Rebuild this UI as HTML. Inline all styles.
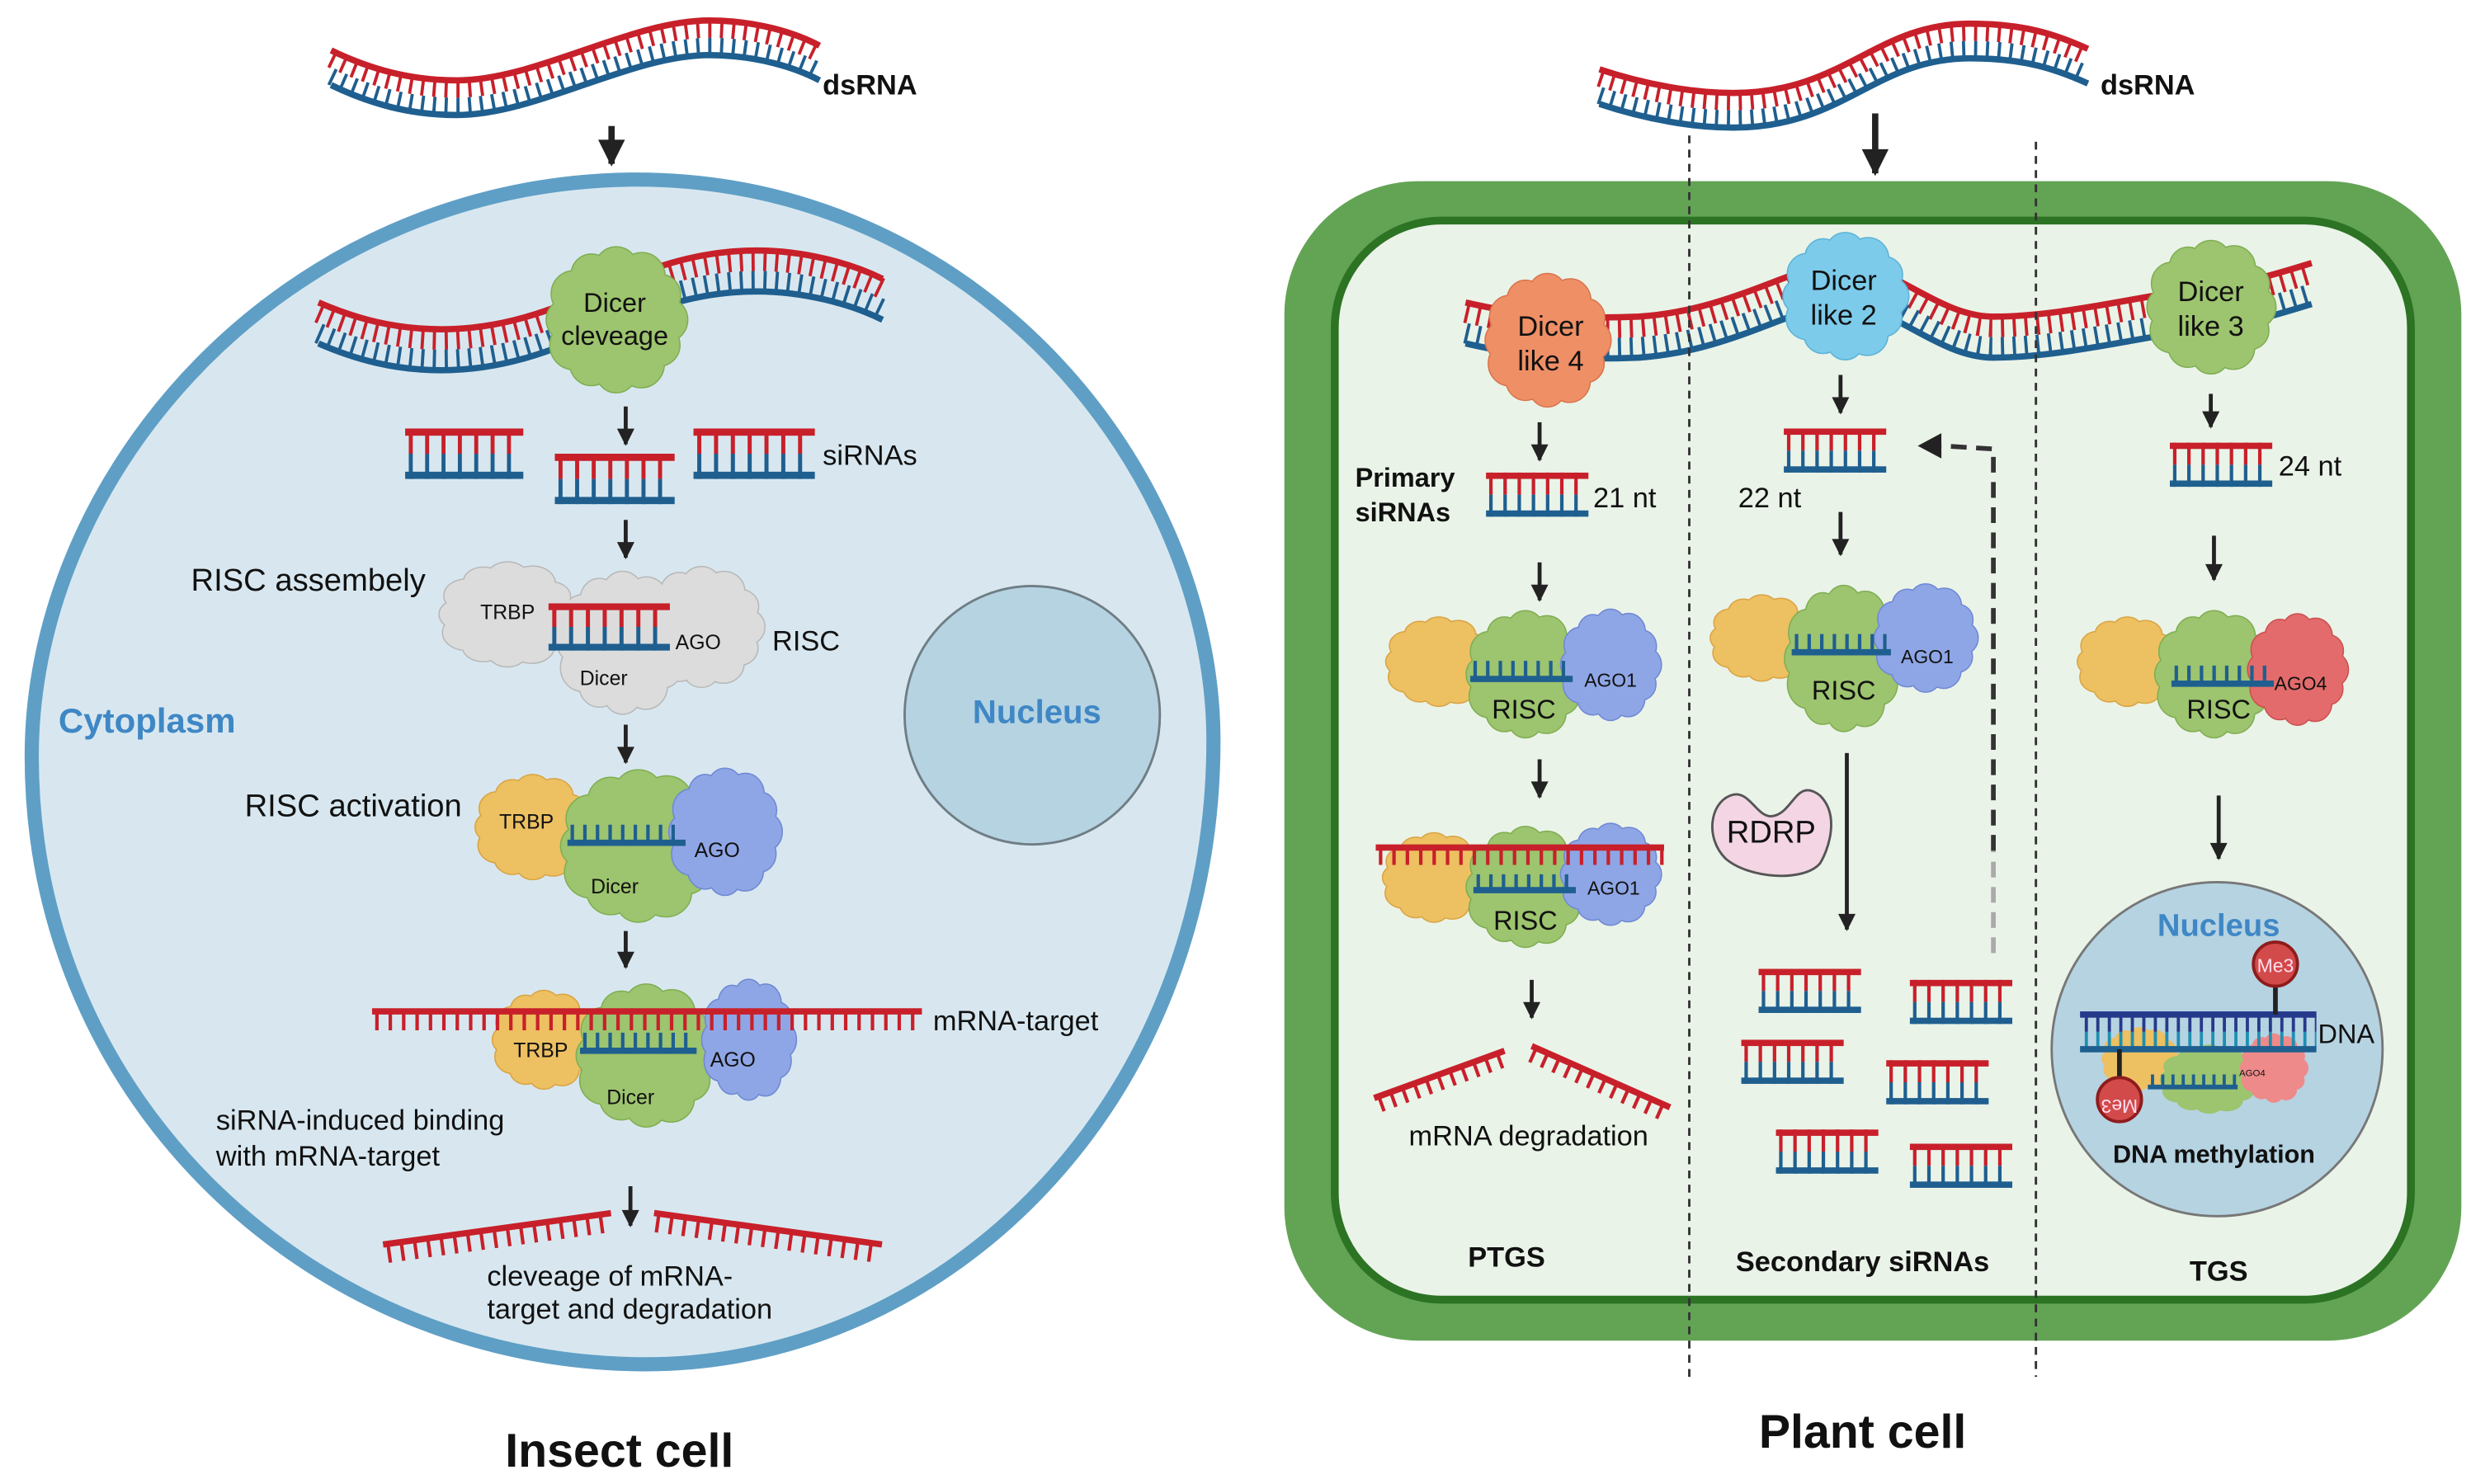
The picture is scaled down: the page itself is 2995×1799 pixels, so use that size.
<!DOCTYPE html>
<html><head><meta charset="utf-8">
<style>
html,body{margin:0;padding:0;background:#fff;}
svg{display:block;}
text{font-family:"Liberation Sans",sans-serif;}
</style></head>
<body>
<svg width="2995" height="1799" viewBox="0 0 1568 942" xmlns="http://www.w3.org/2000/svg" xmlns:xlink="http://www.w3.org/1999/xlink">
<defs>
<marker id="a" viewBox="0 0 10 10" refX="9" refY="5" markerWidth="12" markerHeight="11" markerUnits="userSpaceOnUse" orient="auto"><path d="M0 0 L10 5 L0 10z" fill="#222"/></marker>
<marker id="b" viewBox="0 0 10 10" refX="9" refY="5" markerWidth="18" markerHeight="17" markerUnits="userSpaceOnUse" orient="auto"><path d="M0 0 L10 5 L0 10z" fill="#222"/></marker>
<g id="blob">
<ellipse cx="0" cy="0" rx="0.8" ry="0.8" vector-effect="non-scaling-stroke"/>
<circle cx="0.7" cy="0" r="0.3" vector-effect="non-scaling-stroke"/>
<circle cx="0.61" cy="0.35" r="0.28" vector-effect="non-scaling-stroke"/>
<circle cx="0.35" cy="0.61" r="0.32" vector-effect="non-scaling-stroke"/>
<circle cx="0" cy="0.72" r="0.28" vector-effect="non-scaling-stroke"/>
<circle cx="-0.35" cy="0.6" r="0.3" vector-effect="non-scaling-stroke"/>
<circle cx="-0.6" cy="0.35" r="0.33" vector-effect="non-scaling-stroke"/>
<circle cx="-0.7" cy="0" r="0.28" vector-effect="non-scaling-stroke"/>
<circle cx="-0.6" cy="-0.36" r="0.31" vector-effect="non-scaling-stroke"/>
<circle cx="-0.35" cy="-0.62" r="0.28" vector-effect="non-scaling-stroke"/>
<circle cx="0" cy="-0.7" r="0.3" vector-effect="non-scaling-stroke"/>
<circle cx="0.36" cy="-0.6" r="0.32" vector-effect="non-scaling-stroke"/>
<circle cx="0.62" cy="-0.34" r="0.28" vector-effect="non-scaling-stroke"/>
</g>
<g id="lad">
<line x1="2" y1="7" x2="65" y2="7" stroke="#c8202a" stroke-width="14" stroke-dasharray="2.2 6.8"/>
<line x1="2" y1="21" x2="65" y2="21" stroke="#1f5f8f" stroke-width="14" stroke-dasharray="2.2 6.8"/>
<rect x="0" y="0" width="65" height="4" fill="#c8202a"/>
<rect x="0" y="24" width="65" height="4" fill="#1f5f8f"/>
</g>
</defs>
<rect width="1568" height="942" fill="#fff"/>

<!-- ===== INSECT CELL ===== -->
<path d="M400 114 C620 112 770 300 770 470 C770 700 600 866 410 866 C200 866 20 700 20 480 C20 300 180 117 400 114 Z" fill="#d8e7ef" stroke="#5f9fc6" stroke-width="9"/>
<ellipse cx="655" cy="454" rx="81" ry="82" fill="#b6d3e2" stroke="#6f7d84" stroke-width="1.5"/>

<g fill="none">
<path d="M210 43 C235 55 260 62 290 62 C340 62 400 24 450 24 C480 24 505 32 520 40" transform="translate(0,-5.5)" stroke="#c8202a" stroke-width="11" stroke-dasharray="2 5.5"/>
<path d="M210 43 C235 55 260 62 290 62 C340 62 400 24 450 24 C480 24 505 32 520 40" transform="translate(0,5.5)" stroke="#1f5f8f" stroke-width="11" stroke-dasharray="2 5.5"/>
<path d="M210 43 C235 55 260 62 290 62 C340 62 400 24 450 24 C480 24 505 32 520 40" transform="translate(0,-11)" stroke="#c8202a" stroke-width="4"/>
<path d="M210 43 C235 55 260 62 290 62 C340 62 400 24 450 24 C480 24 505 32 520 40" transform="translate(0,11)" stroke="#1f5f8f" stroke-width="4"/>
</g>
<line x1="388" y1="80" x2="388" y2="104" stroke="#222" stroke-width="4" marker-end="url(#b)"/>

<g fill="none">
<path d="M202 205 C225 215 250 222 280 222 C360 222 400 172 480 172 C510 172 540 180 560 190" transform="translate(0,-6.5)" stroke="#c8202a" stroke-width="13" stroke-dasharray="2 5.5"/>
<path d="M202 205 C225 215 250 222 280 222 C360 222 400 172 480 172 C510 172 540 180 560 190" transform="translate(0,6.5)" stroke="#1f5f8f" stroke-width="13" stroke-dasharray="2 5.5"/>
<path d="M202 205 C225 215 250 222 280 222 C360 222 400 172 480 172 C510 172 540 180 560 190" transform="translate(0,-13)" stroke="#c8202a" stroke-width="4"/>
<path d="M202 205 C225 215 250 222 280 222 C360 222 400 172 480 172 C510 172 540 180 560 190" transform="translate(0,13)" stroke="#1f5f8f" stroke-width="4"/>
</g>
<use xlink:href="#blob" transform="translate(391,203) scale(45,46)" fill="#7fae52" stroke="#7fae52" stroke-width="3"/>
<use xlink:href="#blob" transform="translate(391,203) scale(45,46)" fill="#9dc46e"/>

<line x1="397" y1="258" x2="397" y2="282" stroke="#222" stroke-width="2.5" marker-end="url(#a)"/>
<use xlink:href="#lad" transform="translate(257,272) scale(1.154,1.143)"/>
<use xlink:href="#lad" transform="translate(352,288) scale(1.17,1.143)"/>
<use xlink:href="#lad" transform="translate(440,272) scale(1.185,1.143)"/>
<line x1="397" y1="330" x2="397" y2="354" stroke="#222" stroke-width="2.5" marker-end="url(#a)"/>

<use xlink:href="#blob" transform="translate(322,390) scale(44,33)" fill="#b8b8b8" stroke="#b8b8b8" stroke-width="3"/>
<use xlink:href="#blob" transform="translate(445,398) scale(40,38)" fill="#b8b8b8" stroke="#b8b8b8" stroke-width="3"/>
<use xlink:href="#blob" transform="translate(395,408) scale(42,45)" fill="#b8b8b8" stroke="#b8b8b8" stroke-width="3"/>
<use xlink:href="#blob" transform="translate(322,390) scale(44,33)" fill="#dcdcdc"/>
<use xlink:href="#blob" transform="translate(445,398) scale(40,38)" fill="#dcdcdc"/>
<use xlink:href="#blob" transform="translate(395,408) scale(42,45)" fill="#dcdcdc"/>
<use xlink:href="#lad" transform="translate(348,383) scale(1.185,1.07)"/>
<line x1="397" y1="460" x2="397" y2="484" stroke="#222" stroke-width="2.5" marker-end="url(#a)"/>

<use xlink:href="#blob" transform="translate(338,525) scale(37,33)" fill="#d9a445" stroke="#d9a445" stroke-width="3"/>
<use xlink:href="#blob" transform="translate(338,525) scale(37,33)" fill="#edc062"/>
<use xlink:href="#blob" transform="translate(405,537) scale(50,48)" fill="#7fae52" stroke="#7fae52" stroke-width="3"/>
<use xlink:href="#blob" transform="translate(405,537) scale(50,48)" fill="#9dc46e"/>
<use xlink:href="#blob" transform="translate(460,528) scale(36,40)" fill="#6f88d4" stroke="#6f88d4" stroke-width="3"/>
<use xlink:href="#blob" transform="translate(460,528) scale(36,40)" fill="#8fa6e6"/>
<line x1="362" y1="529" x2="433" y2="529" stroke="#1f5f8f" stroke-width="11" stroke-dasharray="2.2 5.8"/>
<line x1="360" y1="535" x2="435" y2="535" stroke="#1f5f8f" stroke-width="4"/>
<line x1="397" y1="591" x2="397" y2="614" stroke="#222" stroke-width="2.5" marker-end="url(#a)"/>

<use xlink:href="#blob" transform="translate(345,660) scale(33,31)" fill="#d9a445" stroke="#d9a445" stroke-width="3"/>
<use xlink:href="#blob" transform="translate(345,660) scale(33,31)" fill="#edc062"/>
<use xlink:href="#blob" transform="translate(410,670) scale(45,45)" fill="#7fae52" stroke="#7fae52" stroke-width="3"/>
<use xlink:href="#blob" transform="translate(410,670) scale(45,45)" fill="#9dc46e"/>
<use xlink:href="#blob" transform="translate(475,660) scale(30,38)" fill="#6f88d4" stroke="#6f88d4" stroke-width="3"/>
<use xlink:href="#blob" transform="translate(475,660) scale(30,38)" fill="#8fa6e6"/>
<line x1="370" y1="661" x2="440" y2="661" stroke="#1f5f8f" stroke-width="11" stroke-dasharray="2.2 5.8"/>
<line x1="368" y1="667" x2="442" y2="667" stroke="#1f5f8f" stroke-width="4"/>
<line x1="238" y1="648" x2="585" y2="648" stroke="#c8202a" stroke-width="12" stroke-dasharray="2.2 6.3"/>
<line x1="236" y1="642" x2="585" y2="642" stroke="#c8202a" stroke-width="4"/>
<line x1="400" y1="753" x2="400" y2="778" stroke="#222" stroke-width="2.5" marker-end="url(#a)"/>

<g transform="rotate(-7.85 243 790)">
<line x1="245" y1="796" x2="389" y2="796" stroke="#c8202a" stroke-width="12" stroke-dasharray="2.2 6.3"/>
<line x1="243" y1="790" x2="389" y2="790" stroke="#c8202a" stroke-width="4"/>
</g>
<g transform="rotate(7.85 415 770)">
<line x1="417" y1="776" x2="561" y2="776" stroke="#c8202a" stroke-width="12" stroke-dasharray="2.2 6.3"/>
<line x1="415" y1="770" x2="561" y2="770" stroke="#c8202a" stroke-width="4"/>
</g>

<!-- ===== PLANT CELL ===== -->
<rect x="815" y="115" width="747" height="736" rx="85" fill="#62a454"/>
<rect x="847" y="140" width="683" height="685" rx="68" fill="#eaf3e8" stroke="#2c7324" stroke-width="5"/>

<g fill="none">
<path d="M1015 55 C1045 65 1075 70 1100 70 C1170 70 1190 26 1250 26 C1285 26 1305 33 1325 42" transform="translate(0,-5.5)" stroke="#c8202a" stroke-width="11" stroke-dasharray="2 5.5"/>
<path d="M1015 55 C1045 65 1075 70 1100 70 C1170 70 1190 26 1250 26 C1285 26 1305 33 1325 42" transform="translate(0,5.5)" stroke="#1f5f8f" stroke-width="11" stroke-dasharray="2 5.5"/>
<path d="M1015 55 C1045 65 1075 70 1100 70 C1170 70 1190 26 1250 26 C1285 26 1305 33 1325 42" transform="translate(0,-11)" stroke="#c8202a" stroke-width="4"/>
<path d="M1015 55 C1045 65 1075 70 1100 70 C1170 70 1190 26 1250 26 C1285 26 1305 33 1325 42" transform="translate(0,11)" stroke="#1f5f8f" stroke-width="4"/>
</g>
<line x1="1190" y1="72" x2="1190" y2="110" stroke="#222" stroke-width="4" marker-end="url(#b)"/>

<g fill="none">
<path d="M930 205 C960 212 990 216 1040 214 C1100 210 1140 180 1170 180 C1200 180 1230 214 1265 214 C1310 214 1360 200 1400 196 C1430 192 1450 185 1467 180" transform="translate(0,-6.5)" stroke="#c8202a" stroke-width="13" stroke-dasharray="2 5.5"/>
<path d="M930 205 C960 212 990 216 1040 214 C1100 210 1140 180 1170 180 C1200 180 1230 214 1265 214 C1310 214 1360 200 1400 196 C1430 192 1450 185 1467 180" transform="translate(0,6.5)" stroke="#1f5f8f" stroke-width="13" stroke-dasharray="2 5.5"/>
<path d="M930 205 C960 212 990 216 1040 214 C1100 210 1140 180 1170 180 C1200 180 1230 214 1265 214 C1310 214 1360 200 1400 196 C1430 192 1450 185 1467 180" transform="translate(0,-13)" stroke="#c8202a" stroke-width="4"/>
<path d="M930 205 C960 212 990 216 1040 214 C1100 210 1140 180 1170 180 C1200 180 1230 214 1265 214 C1310 214 1360 200 1400 196 C1430 192 1450 185 1467 180" transform="translate(0,13)" stroke="#1f5f8f" stroke-width="4"/>
</g>
<use xlink:href="#blob" transform="translate(982,216) scale(40,42)" fill="#d9744c" stroke="#d9744c" stroke-width="3"/>
<use xlink:href="#blob" transform="translate(982,216) scale(40,42)" fill="#ef8f66"/>
<use xlink:href="#blob" transform="translate(1171,188) scale(40,40)" fill="#5cb3d8" stroke="#5cb3d8" stroke-width="3"/>
<use xlink:href="#blob" transform="translate(1171,188) scale(40,40)" fill="#7dcbea"/>
<use xlink:href="#blob" transform="translate(1403,195) scale(41,42)" fill="#7fae52" stroke="#7fae52" stroke-width="3"/>
<use xlink:href="#blob" transform="translate(1403,195) scale(41,42)" fill="#9dc46e"/>

<line x1="977" y1="268" x2="977" y2="292" stroke="#222" stroke-width="2.5" marker-end="url(#a)"/>
<use xlink:href="#lad" transform="translate(943,300)"/>
<line x1="977" y1="357" x2="977" y2="381" stroke="#222" stroke-width="2.5" marker-end="url(#a)"/>
<use xlink:href="#blob" transform="translate(913,420) scale(34,28)" fill="#d9a445" stroke="#d9a445" stroke-width="3"/>
<use xlink:href="#blob" transform="translate(913,420) scale(34,28)" fill="#edc062"/>
<use xlink:href="#blob" transform="translate(968,428) scale(38,40)" fill="#7fae52" stroke="#7fae52" stroke-width="3"/>
<use xlink:href="#blob" transform="translate(968,428) scale(38,40)" fill="#9dc46e"/>
<use xlink:href="#blob" transform="translate(1022,422) scale(32,35)" fill="#6f88d4" stroke="#6f88d4" stroke-width="3"/>
<use xlink:href="#blob" transform="translate(1022,422) scale(32,35)" fill="#8fa6e6"/>
<line x1="935" y1="425" x2="998" y2="425" stroke="#1f5f8f" stroke-width="11" stroke-dasharray="2.2 5.8"/>
<line x1="933" y1="431" x2="998" y2="431" stroke="#1f5f8f" stroke-width="4"/>
<line x1="977" y1="482" x2="977" y2="506" stroke="#222" stroke-width="2.5" marker-end="url(#a)"/>
<use xlink:href="#blob" transform="translate(910,557) scale(33,28)" fill="#d9a445" stroke="#d9a445" stroke-width="3"/>
<use xlink:href="#blob" transform="translate(910,557) scale(33,28)" fill="#edc062"/>
<use xlink:href="#blob" transform="translate(968,563) scale(38,38)" fill="#7fae52" stroke="#7fae52" stroke-width="3"/>
<use xlink:href="#blob" transform="translate(968,563) scale(38,38)" fill="#9dc46e"/>
<use xlink:href="#blob" transform="translate(1022,555) scale(32,32)" fill="#6f88d4" stroke="#6f88d4" stroke-width="3"/>
<use xlink:href="#blob" transform="translate(1022,555) scale(32,32)" fill="#8fa6e6"/>
<line x1="937" y1="560" x2="1000" y2="560" stroke="#1f5f8f" stroke-width="10" stroke-dasharray="2.2 5.8"/>
<line x1="935" y1="565" x2="1000" y2="565" stroke="#1f5f8f" stroke-width="4"/>
<line x1="875" y1="543.5" x2="1056" y2="543.5" stroke="#c8202a" stroke-width="11" stroke-dasharray="2.2 6.3"/>
<line x1="873" y1="538" x2="1056" y2="538" stroke="#c8202a" stroke-width="4"/>
<line x1="972" y1="622" x2="972" y2="646" stroke="#222" stroke-width="2.5" marker-end="url(#a)"/>
<g transform="rotate(-19.9 872 697)">
<line x1="874" y1="702" x2="960" y2="702" stroke="#c8202a" stroke-width="10" stroke-dasharray="2.2 5.8"/>
<line x1="872" y1="697" x2="960" y2="697" stroke="#c8202a" stroke-width="4"/>
</g>
<g transform="rotate(23.9 972 664)">
<line x1="974" y1="669" x2="1068" y2="669" stroke="#c8202a" stroke-width="10" stroke-dasharray="2.2 5.8"/>
<line x1="972" y1="664" x2="1068" y2="664" stroke="#c8202a" stroke-width="4"/>
</g>

<line x1="1168" y1="238" x2="1168" y2="262" stroke="#222" stroke-width="2.5" marker-end="url(#a)"/>
<use xlink:href="#lad" transform="translate(1132,272)"/>
<line x1="1168" y1="325" x2="1168" y2="352" stroke="#222" stroke-width="2.5" marker-end="url(#a)"/>
<use xlink:href="#blob" transform="translate(1118,405) scale(33,27)" fill="#d9a445" stroke="#d9a445" stroke-width="3"/>
<use xlink:href="#blob" transform="translate(1118,405) scale(33,27)" fill="#edc062"/>
<use xlink:href="#blob" transform="translate(1170,418) scale(38,46)" fill="#7fae52" stroke="#7fae52" stroke-width="3"/>
<use xlink:href="#blob" transform="translate(1170,418) scale(38,46)" fill="#9dc46e"/>
<use xlink:href="#blob" transform="translate(1222,405) scale(33,34)" fill="#6f88d4" stroke="#6f88d4" stroke-width="3"/>
<use xlink:href="#blob" transform="translate(1222,405) scale(33,34)" fill="#8fa6e6"/>
<line x1="1139" y1="408" x2="1200" y2="408" stroke="#1f5f8f" stroke-width="11" stroke-dasharray="2.2 5.8"/>
<line x1="1137" y1="414" x2="1200" y2="414" stroke="#1f5f8f" stroke-width="4"/>
<path d="M1098 505 C1110 500 1115 520 1125 518 C1138 516 1140 493 1155 505 C1168 518 1160 540 1155 548 C1145 560 1110 558 1095 545 C1082 532 1085 510 1098 505 Z" fill="#f3d5e3" stroke="#555" stroke-width="1.5"/>
<line x1="1172" y1="478" x2="1172" y2="590" stroke="#222" stroke-width="2.5" marker-end="url(#a)"/>
<line x1="1265" y1="605" x2="1265" y2="540" stroke="#aaa" stroke-width="3" stroke-dasharray="10 6"/>
<polyline points="1265,540 1265,285 1232,283" fill="none" stroke="#333" stroke-width="3" stroke-dasharray="10 6"/>
<polygon points="1232,275 1232,291 1217,283" fill="#222"/>
<use xlink:href="#lad" transform="translate(1116,615)"/>
<use xlink:href="#lad" transform="translate(1212,622)"/>
<use xlink:href="#lad" transform="translate(1105,660)"/>
<use xlink:href="#lad" transform="translate(1197,673)"/>
<use xlink:href="#lad" transform="translate(1127,717)"/>
<use xlink:href="#lad" transform="translate(1212,726)"/>

<line x1="1403" y1="250" x2="1403" y2="271" stroke="#222" stroke-width="2.5" marker-end="url(#a)"/>
<use xlink:href="#lad" transform="translate(1377,281)"/>
<line x1="1405" y1="340" x2="1405" y2="368" stroke="#222" stroke-width="2.5" marker-end="url(#a)"/>
<use xlink:href="#blob" transform="translate(1350,420) scale(32,28)" fill="#d9a445" stroke="#d9a445" stroke-width="3"/>
<use xlink:href="#blob" transform="translate(1350,420) scale(32,28)" fill="#edc062"/>
<use xlink:href="#blob" transform="translate(1405,428) scale(38,40)" fill="#7fae52" stroke="#7fae52" stroke-width="3"/>
<use xlink:href="#blob" transform="translate(1405,428) scale(38,40)" fill="#9dc46e"/>
<use xlink:href="#blob" transform="translate(1458,425) scale(32,35)" fill="#cc5050" stroke="#cc5050" stroke-width="3"/>
<use xlink:href="#blob" transform="translate(1458,425) scale(32,35)" fill="#e36b6b"/>
<line x1="1380" y1="428" x2="1443" y2="428" stroke="#1f5f8f" stroke-width="11" stroke-dasharray="2.2 5.8"/>
<line x1="1378" y1="434" x2="1443" y2="434" stroke="#1f5f8f" stroke-width="4"/>
<line x1="1408" y1="505" x2="1408" y2="545" stroke="#222" stroke-width="2.5" marker-end="url(#a)"/>

<ellipse cx="1407" cy="666" rx="105" ry="106" fill="#b6d3e2" stroke="#777" stroke-width="1.5"/>
<use xlink:href="#blob" transform="translate(1358,672) scale(25,20)" fill="#edc062"/>
<use xlink:href="#blob" transform="translate(1402,685) scale(32,22)" fill="#9dc46e"/>
<use xlink:href="#blob" transform="translate(1443,678) scale(22,22)" fill="#ef8a8a"/>
<line x1="1365" y1="686" x2="1420" y2="686" stroke="#1f5f8f" stroke-width="8" stroke-dasharray="2 4.5"/>
<line x1="1363" y1="690" x2="1420" y2="690" stroke="#1f5f8f" stroke-width="3"/>
<line x1="1323" y1="649.5" x2="1470" y2="649.5" stroke="#253a8a" stroke-width="11" stroke-dasharray="2 5.3"/>
<line x1="1323" y1="660.5" x2="1470" y2="660.5" stroke="#1f8fb0" stroke-width="11" stroke-dasharray="2 5.3"/>
<rect x="1320" y="642" width="150" height="4" fill="#253a8a"/>
<rect x="1320" y="664" width="150" height="4" fill="#1f5f8f"/>
<line x1="1444" y1="622" x2="1444" y2="644" stroke="#222" stroke-width="3"/>
<line x1="1345" y1="666" x2="1345" y2="688" stroke="#222" stroke-width="3"/>
<circle cx="1444" cy="612" r="14" fill="#d24a4a" stroke="#8e1c1c" stroke-width="2"/>
<circle cx="1345" cy="698" r="14" fill="#d24a4a" stroke="#8e1c1c" stroke-width="2"/>

<line x1="1072" y1="86" x2="1072" y2="874" stroke="#333" stroke-width="1.5" stroke-dasharray="5 4"/>
<line x1="1292" y1="90" x2="1292" y2="874" stroke="#333" stroke-width="1.5" stroke-dasharray="5 4"/>

<g fill="#111" font-size="18">
<text x="522" y="60" font-weight="bold">dsRNA</text>
<text x="390" y="198" text-anchor="middle" font-size="17">Dicer</text>
<text x="390" y="219" text-anchor="middle" font-size="17">cleveage</text>
<text x="522" y="295">siRNAs</text>
<text x="270" y="375" text-anchor="end" font-size="20">RISC assembely</text>
<text x="322" y="393" text-anchor="middle" font-size="13">TRBP</text>
<text x="443" y="412" text-anchor="middle" font-size="13">AGO</text>
<text x="383" y="435" text-anchor="middle" font-size="13">Dicer</text>
<text x="490" y="413">RISC</text>
<text x="293" y="518" text-anchor="end" font-size="20">RISC activation</text>
<text x="334" y="526" text-anchor="middle" font-size="13">TRBP</text>
<text x="455" y="544" text-anchor="middle" font-size="13">AGO</text>
<text x="390" y="567" text-anchor="middle" font-size="13">Dicer</text>
<text x="592" y="654">mRNA-target</text>
<text x="343" y="671" text-anchor="middle" font-size="13">TRBP</text>
<text x="465" y="677" text-anchor="middle" font-size="13">AGO</text>
<text x="400" y="701" text-anchor="middle" font-size="13">Dicer</text>
<text x="137" y="717">siRNA-induced binding</text>
<text x="137" y="740">with mRNA-target</text>
<text x="309" y="816">cleveage of mRNA-</text>
<text x="309" y="837">target and degradation</text>
<text x="393" y="931" text-anchor="middle" font-size="30" font-weight="bold">Insect cell</text>
<text x="37" y="465" font-size="22" font-weight="bold" fill="#3f87c5">Cytoplasm</text>
<text x="658" y="459" text-anchor="middle" font-size="21" font-weight="bold" fill="#3f87c5">Nucleus</text>
</g>
<g fill="#111" font-size="18">
<text x="1333" y="60" font-weight="bold">dsRNA</text>
<text x="984" y="213" text-anchor="middle">Dicer</text>
<text x="984" y="235" text-anchor="middle">like 4</text>
<text x="1170" y="184" text-anchor="middle">Dicer</text>
<text x="1170" y="206" text-anchor="middle">like 2</text>
<text x="1403" y="191" text-anchor="middle">Dicer</text>
<text x="1403" y="213" text-anchor="middle">like 3</text>
<text x="860" y="309" font-size="17" font-weight="bold">Primary</text>
<text x="860" y="331" font-size="17" font-weight="bold">siRNAs</text>
<text x="1011" y="322">21 nt</text>
<text x="1103" y="322">22 nt</text>
<text x="1446" y="302">24 nt</text>
<text x="1022" y="436" text-anchor="middle" font-size="12">AGO1</text>
<text x="967" y="456" text-anchor="middle" font-size="17">RISC</text>
<text x="1223" y="421" text-anchor="middle" font-size="12">AGO1</text>
<text x="1170" y="444" text-anchor="middle" font-size="17">RISC</text>
<text x="1460" y="438" text-anchor="middle" font-size="12">AGO4</text>
<text x="1408" y="456" text-anchor="middle" font-size="17">RISC</text>
<text x="1024" y="568" text-anchor="middle" font-size="12">AGO1</text>
<text x="968" y="590" text-anchor="middle" font-size="17">RISC</text>
<text x="970" y="727" text-anchor="middle">mRNA degradation</text>
<text x="1124" y="535" text-anchor="middle" font-size="20">RDRP</text>
<text x="956" y="804" text-anchor="middle" font-weight="bold">PTGS</text>
<text x="1182" y="807" text-anchor="middle" font-weight="bold">Secondary siRNAs</text>
<text x="1408" y="813" text-anchor="middle" font-weight="bold">TGS</text>
<text x="1408" y="594" text-anchor="middle" font-size="20" font-weight="bold" fill="#3f87c5">Nucleus</text>
<text x="1471" y="662" font-size="17">DNA</text>
<text x="1421" y="683" font-size="6">AGO4</text>
<text x="1444" y="617" text-anchor="middle" font-size="12" fill="#fde">Me3</text>
<text x="1345" y="690" text-anchor="middle" font-size="12" fill="#fde" transform="rotate(180 1345 694)">Me3</text>
<text x="1405" y="738" text-anchor="middle" font-size="16" font-weight="bold">DNA methylation</text>
<text x="1182" y="919" text-anchor="middle" font-size="30" font-weight="bold">Plant cell</text>
</g>
</svg>
</body></html>
